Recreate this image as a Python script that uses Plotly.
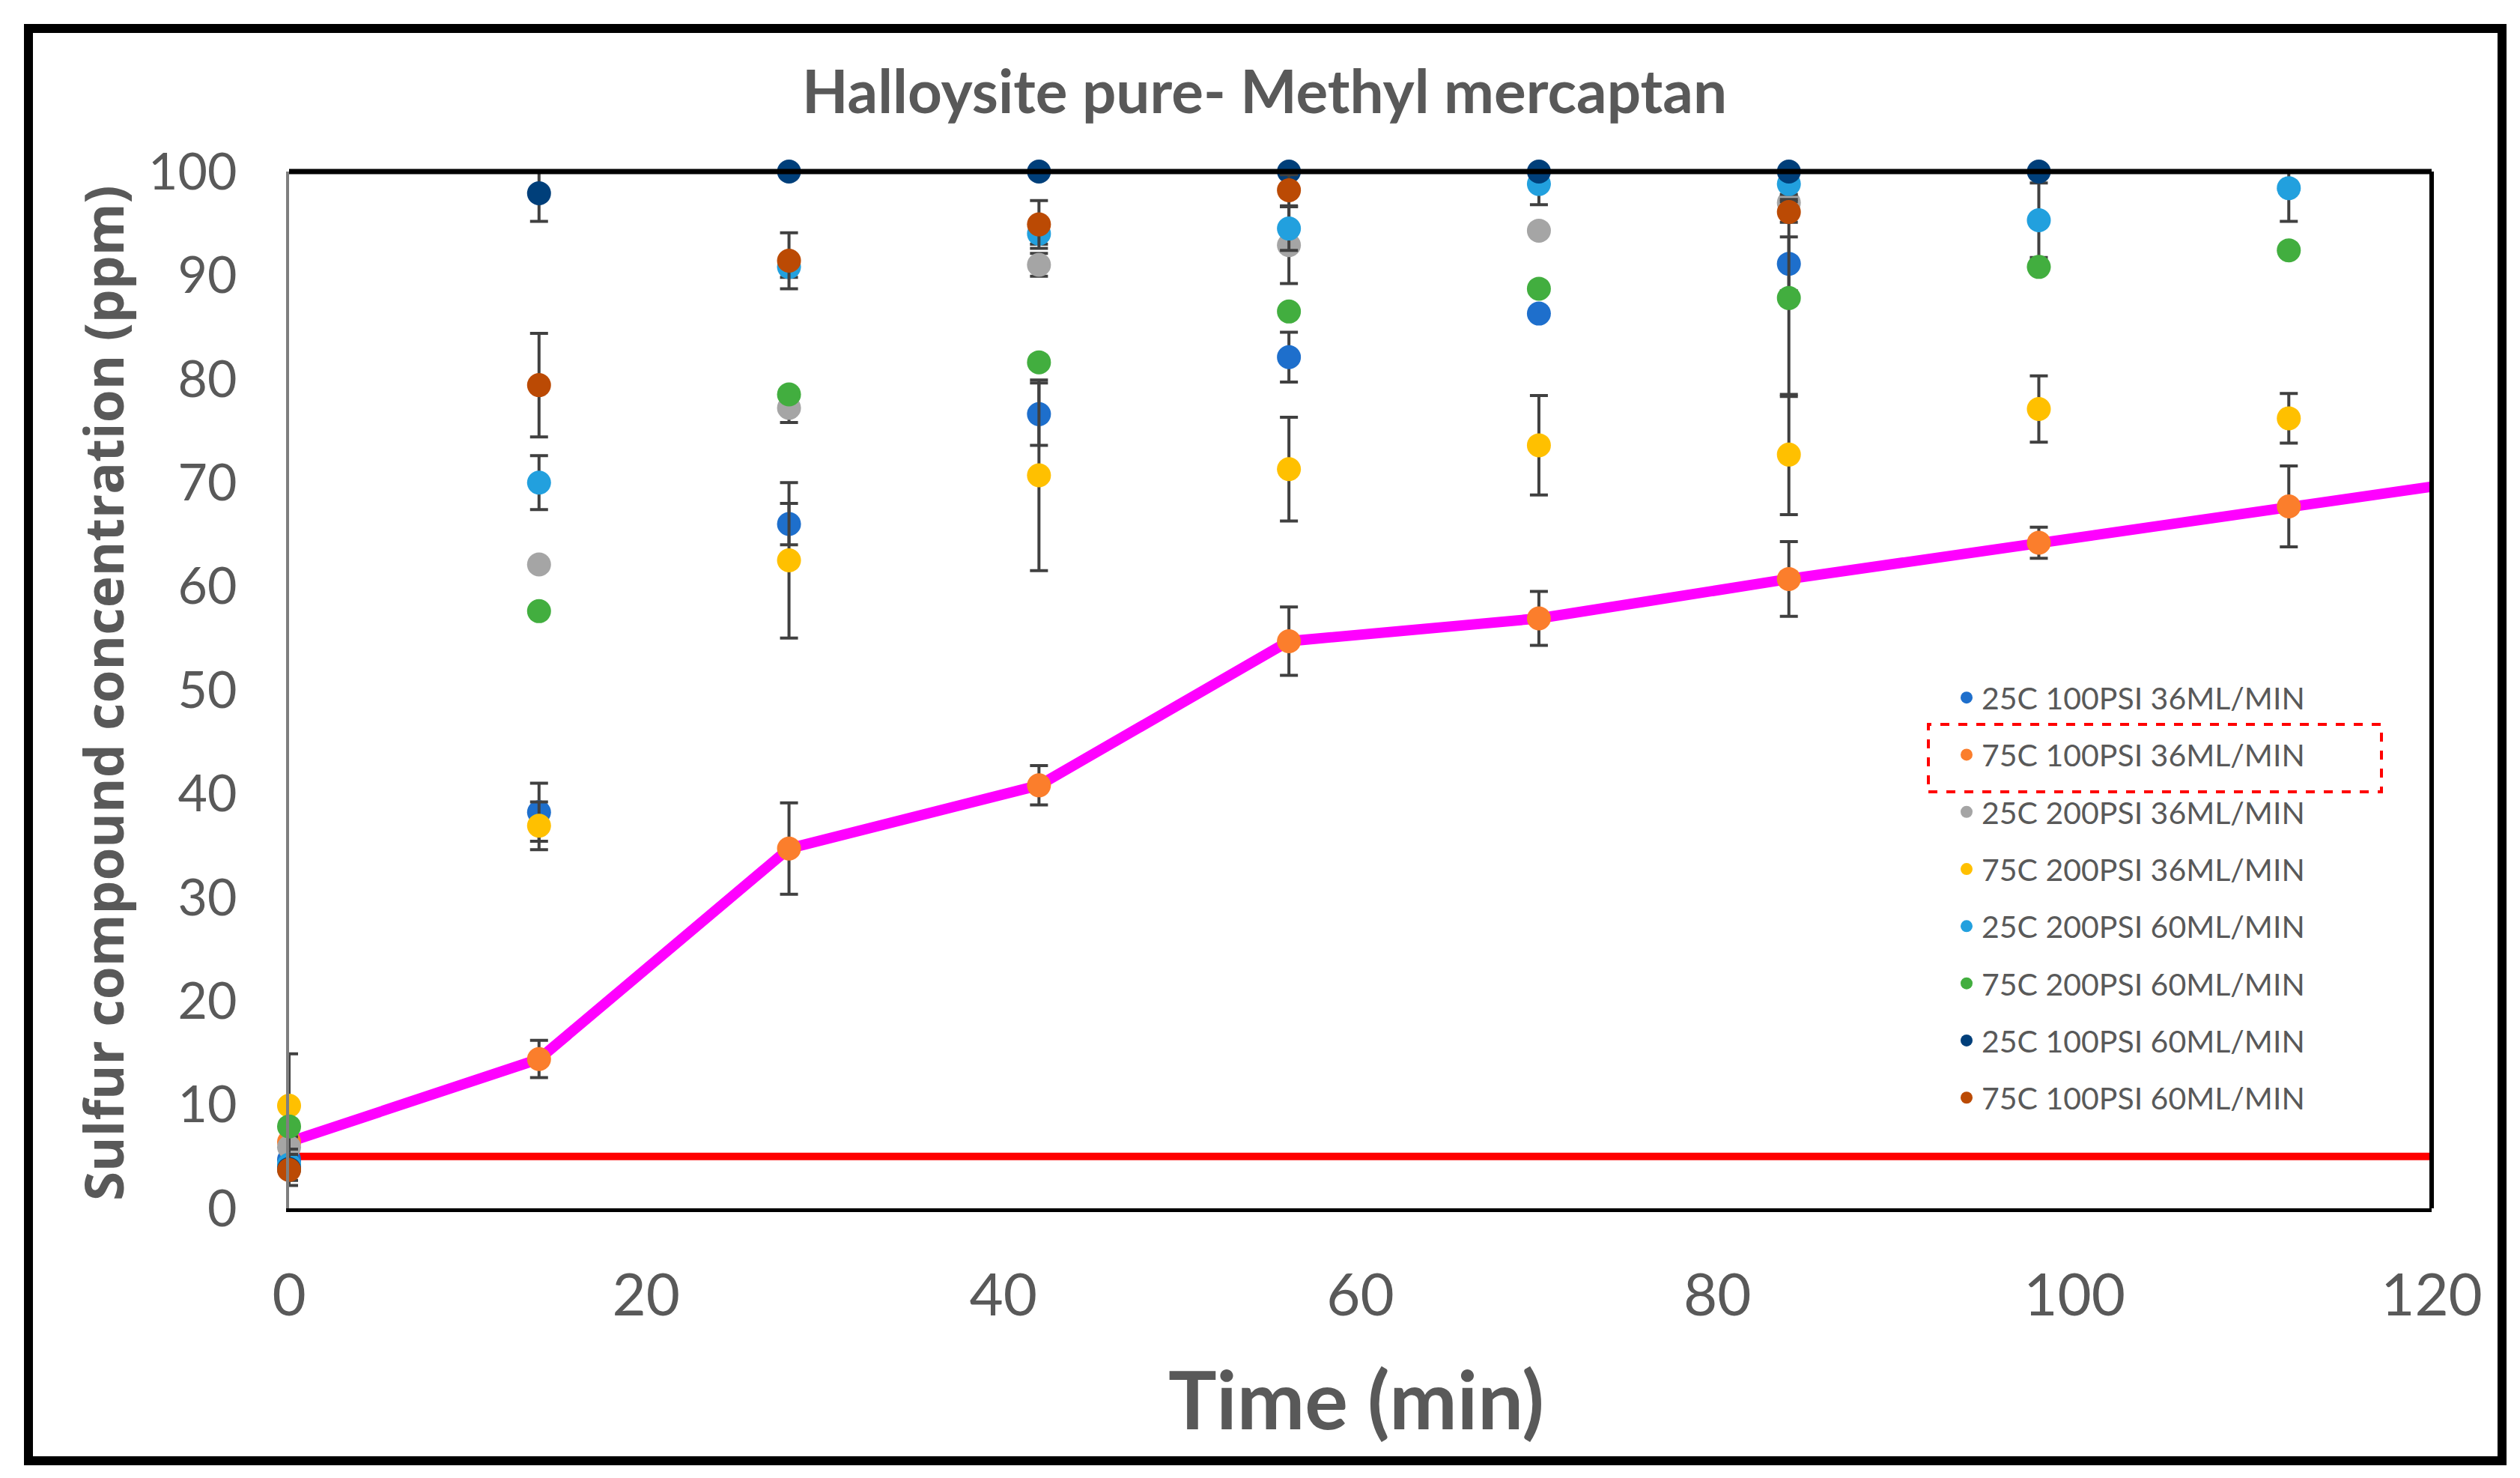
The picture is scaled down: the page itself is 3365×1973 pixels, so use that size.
import plotly.graph_objects as go

# time points (min)
time = [0, 14, 28, 42, 56, 70, 84, 98, 112]

names = [
    "25C 100PSI 36ML/MIN",
    "75C 100PSI 36ML/MIN",
    "25C 200PSI 36ML/MIN",
    "75C 200PSI 36ML/MIN",
    "25C 200PSI 60ML/MIN",
    "75C 200PSI 60ML/MIN",
    "25C 100PSI 60ML/MIN",
    "75C 100PSI 60ML/MIN",
]
colors = ["#1E6FCC", "#FB7E2C", "#A5A5A5", "#FFC000",
          "#22A0DE", "#42AE3F", "#003F7A", "#BB4A04"]

# concentration (ppm), None = no point
c_25_100_36 = [4.7, 38.2, 66.0, 76.6, 82.1, 86.3, 91.1, None, None]
c_75_100_36 = [6.4, 14.4, 34.7, 40.8, 54.7, 56.9, 60.7, 64.2, 67.7]
c_25_200_36 = [5.9, 62.1, 77.2, 91.0, 92.9, 94.3, 97.0, None, None]
c_75_200_36 = [9.9, 36.9, 62.5, 70.7, 71.3, 73.6, 72.7, 77.1, 76.2]
c_25_200_60 = [4.2, 70.0, 90.8, 94.0, 94.5, 98.8, 98.8, 95.3, 98.4]
c_75_200_60 = [7.9, 57.6, 78.5, 81.6, 86.5, 88.7, 87.8, 90.8, 92.4]
c_25_100_60 = [3.8, 97.9, 100, 100, 100, 100, 100, 100, None]
c_75_100_60 = [3.7, 79.4, 91.4, 94.9, 98.2, None, 96.1, None, None]

# error bars (+/- ppm)
e_25_100_36 = [1.0, 2.8, 2.0, 3.0, 2.4, 0.0, 2.6, 0, 0]
e_75_100_36 = [0.5, 1.8, 4.4, 1.9, 3.3, 2.6, 3.6, 1.5, 3.9]
e_25_200_36 = [1.0, 0.0, 1.4, 1.1, 3.7, 0.0, 0.0, 0, 0]
e_75_200_36 = [5.0, 2.3, 7.5, 9.2, 5.0, 4.8, 5.8, 3.2, 2.4]
e_25_200_60 = [1.5, 2.6, 1.0, 1.0, 2.1, 2.0, 1.0, 3.6, 3.2]
e_75_200_60 = [0.0, 0.0, 0.0, 0.0, 0.0, 0.0, 9.5, 0.0, 0.0]
e_25_100_60 = [0.0, 2.7, 0.0, 0.0, 0.0, 0.0, 0.0, 0.0, 0]
e_75_100_60 = [1.5, 5.0, 2.7, 2.3, 1.5, 0, 1.0, 0, 0]

series = [c_25_100_36, c_75_100_36, c_25_200_36, c_75_200_36,
          c_25_200_60, c_75_200_60, c_25_100_60, c_75_100_60]
errors = [e_25_100_36, e_75_100_36, e_25_200_36, e_75_200_36,
          e_25_200_60, e_75_200_60, e_25_100_60, e_75_100_60]

# magenta connecting line for the 75C 100PSI 36ML/MIN run
line_x = [0, 14, 28, 42, 56, 70, 84, 98, 112, 120]
line_y = [6.4, 14.4, 34.7, 40.8, 54.7, 56.9, 60.7, 64.2, 67.7, 69.6]

# limit line (ppm)
limit_x = [0, 120]
limit_y = [5, 5]

W, H = 3365, 1973
L, R, T, B = 378, 126, 221, 368
GREY = "#595959"

fig = go.Figure()

fig.add_trace(go.Scatter(x=limit_x, y=limit_y, mode="lines",
                         line=dict(color="#FF0000", width=10),
                         showlegend=False, hoverinfo="skip"))
fig.add_trace(go.Scatter(x=line_x, y=line_y, mode="lines",
                         line=dict(color="#FF00FF", width=14),
                         showlegend=False, hoverinfo="skip"))

for i, (name, ys, es) in enumerate(zip(names, series, errors)):
    fig.add_trace(go.Scatter(
        x=time, y=ys, mode="markers", name=name,
        legendgroup=name,
        marker=dict(color=colors[i], size=32),
        error_y=dict(type="data", array=es, visible=True,
                     color="#404040", thickness=4, width=12),
        cliponaxis=False,
    ))

def px(xpix):
    return (xpix - L) / (W - L - R)

def py(ypix):
    return (H - B - ypix) / (H - T - B)

shapes = [
    # plot area border: top and right
    dict(type="line", xref="paper", yref="paper", x0=0, x1=1, y0=1, y1=1,
         line=dict(color="black", width=7)),
    dict(type="line", xref="paper", yref="paper", x0=1, x1=1, y0=0, y1=1,
         line=dict(color="black", width=6)),
    # outer frame
    dict(type="rect", xref="paper", yref="paper",
         x0=px(30), x1=px(3333), y0=py(1942), y1=py(30),
         line=dict(color="black", width=12)),
    # red dashed box around the highlighted legend entry
    dict(type="rect", xref="paper", yref="paper",
         x0=px(2567), x1=px(3172), y0=py(1049), y1=py(959),
         line=dict(color="#FF0000", width=4, dash="dash")),
]

annotations = [
    dict(text="<b>Halloysite pure- Methyl mercaptan</b>", xref="paper", yref="paper",
         x=px(1680), y=py(112), xanchor="center", yanchor="middle", showarrow=False,
         font=dict(family="Lato", size=80, color=GREY)),
    dict(text="<b>Time (min)</b>", xref="paper", yref="paper",
         x=px(1803), y=py(1858), xanchor="center", yanchor="middle", showarrow=False,
         font=dict(family="Lato", size=108, color=GREY)),
    dict(text="<b>Sulfur compound concentration (ppm)</b>", xref="paper", yref="paper",
         x=px(129), y=py(918), xanchor="center", yanchor="middle", showarrow=False,
         textangle=-90,
         font=dict(family="Open Sans", size=71, color=GREY)),
]

fig.update_layout(
    width=W, height=H,
    margin=dict(l=L, r=R, t=T, b=B),
    paper_bgcolor="white", plot_bgcolor="white",
    xaxis=dict(range=[0, 120], dtick=20, showgrid=False, zeroline=False,
               showline=True, linecolor="black", linewidth=5,
               ticks="outside", ticklen=44, tickcolor="rgba(0,0,0,0)",
               tickfont=dict(family="Lato", size=78, color=GREY)),
    yaxis=dict(range=[0, 100], dtick=10, showgrid=False, zeroline=False,
               showline=True, linecolor="#7F7F7F", linewidth=4,
               ticks="outside", ticklen=52, tickcolor="rgba(0,0,0,0)",
               tickfont=dict(family="Lato", size=68, color=GREY)),
    legend=dict(x=px(2598), y=py(890), xanchor="left", yanchor="top",
                bgcolor="rgba(0,0,0,0)", tracegroupgap=20,
                itemsizing="trace",
                font=dict(family="Lato", size=41, color=GREY)),
    shapes=shapes,
    annotations=annotations,
)

fig.write_html("out.html")
